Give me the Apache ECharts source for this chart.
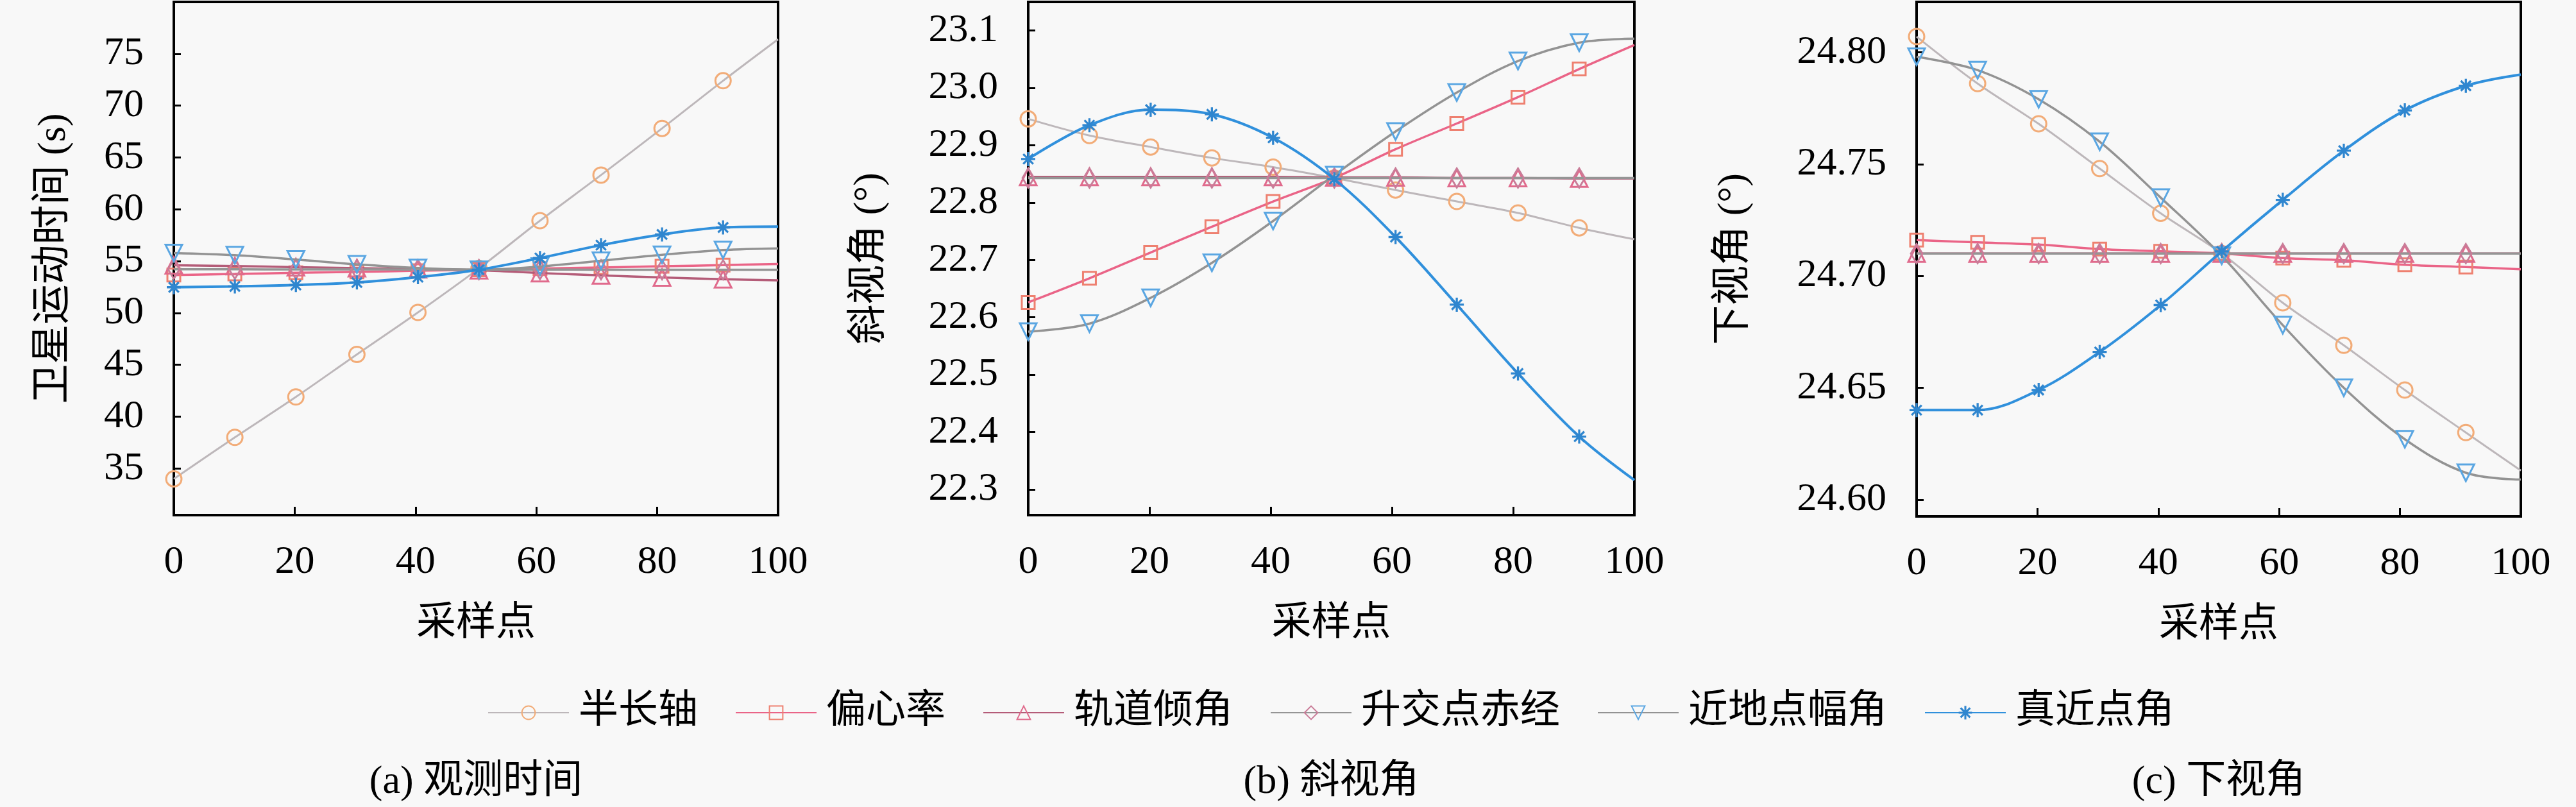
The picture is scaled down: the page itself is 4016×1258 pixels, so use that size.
<!DOCTYPE html>
<html>
<head>
<meta charset="utf-8">
<script src="https://cdn.jsdelivr.net/npm/echarts@6/dist/echarts.min.js"></script>
<style>
html, body { margin: 0; padding: 0; background: #f8f8f8; }
#main { width: 4016px; height: 1258px; }
</style>
</head>
<body>
<div id="main"></div>
<script>
// 采样点位置（标记点位于 0, 10.1, ..., 90.9，曲线延伸到 100）
var samplePoints = [0, 10.1, 20.2, 30.3, 40.4, 50.5, 60.6, 70.7, 80.8, 90.9, 100];
var seriesNames = ['半长轴', '偏心率', '轨道倾角', '升交点赤经', '近地点幅角', '真近点角'];
var xTicks = [0, 20, 40, 60, 80, 100];

// (a) 观测时间
var timeSemiMajor = [34.0, 38.0, 41.9, 46.0, 50.05, 54.3, 58.9, 63.3, 67.8, 72.4, 76.4];
var timeEcc = [53.66, 53.76, 53.87, 53.97, 54.07, 54.17, 54.28, 54.39, 54.5, 54.62, 54.73];
var timeIncl = [54.6, 54.52, 54.42, 54.32, 54.22, 54.12, 53.85, 53.62, 53.42, 53.25, 53.15];
var timeRaan = [54.22, 54.21, 54.2, 54.2, 54.19, 54.18, 54.18, 54.17, 54.17, 54.16, 54.16];
var timePerigee = [55.78, 55.57, 55.16, 54.69, 54.34, 54.17, 54.48, 55.04, 55.61, 56.07, 56.23];
var timeAnomaly = [52.48, 52.56, 52.69, 52.94, 53.45, 54.17, 55.3, 56.54, 57.57, 58.25, 58.33];

// (b) 斜视角
var squintSemiMajor = [22.946, 22.917, 22.897, 22.878, 22.862, 22.843, 22.822, 22.802, 22.782, 22.756, 22.736];
var squintEcc = [22.626, 22.668, 22.713, 22.758, 22.802, 22.843, 22.893, 22.938, 22.984, 23.033, 23.075];
var squintIncl = [22.845, 22.845, 22.845, 22.845, 22.845, 22.844, 22.844, 22.843, 22.843, 22.842, 22.842];
var squintRaan = [22.843, 22.843, 22.843, 22.843, 22.843, 22.843, 22.843, 22.843, 22.843, 22.843, 22.843];
var squintPerigee = [22.575, 22.589, 22.634, 22.695, 22.768, 22.848, 22.924, 22.992, 23.047, 23.079, 23.086];
var squintAnomaly = [22.876, 22.935, 22.962, 22.954, 22.913, 22.841, 22.740, 22.622, 22.502, 22.392, 22.316];

// (c) 下视角
var downSemiMajor = [24.807, 24.786, 24.768, 24.748, 24.728, 24.710, 24.688, 24.669, 24.649, 24.630, 24.613];
var downEcc = [24.716, 24.715, 24.714, 24.712, 24.711, 24.710, 24.708, 24.707, 24.705, 24.704, 24.703];
var downIncl = [24.710, 24.710, 24.710, 24.710, 24.710, 24.710, 24.710, 24.710, 24.710, 24.710, 24.710];
var downRaan = [24.710, 24.710, 24.710, 24.710, 24.710, 24.710, 24.710, 24.710, 24.710, 24.710, 24.710];
var downPerigee = [24.798, 24.792, 24.779, 24.760, 24.735, 24.709, 24.678, 24.650, 24.627, 24.612, 24.609];
var downAnomaly = [24.640, 24.640, 24.649, 24.666, 24.687, 24.711, 24.734, 24.756, 24.774, 24.785, 24.790];

var panelTitles = ['(a) 观测时间', '(b) 斜视角', '(c) 下视角'];
var yNames = ['卫星运动时间 (s)', '斜视角 (°)', '下视角 (°)'];

var chart = echarts.init(document.getElementById('main'));

var FONT = '"Liberation Serif", "Noto Sans CJK SC", serif';
var asterisk = 'path://M-1.5,-10L1.5,-10L1.5,10L-1.5,10Z' +
    'M-10,-1.5L10,-1.5L10,1.5L-10,1.5Z' +
    'M-6.01,-8.13L8.13,6.01L6.01,8.13L-8.13,-6.01Z' +
    'M6.01,-8.13L8.13,-6.01L-6.01,8.13L-8.13,6.01Z';

// 每条曲线的线色、标记样式
var styles = [
    {line: '#bdb7ba', mark: '#f2ac78', symbol: 'circle', size: 24, hollow: true, width: 3},
    {line: '#ea6487', mark: '#ee8070', symbol: 'rect', size: 20, hollow: true, width: 3.5},
    {line: '#b45c78', mark: '#e06a8c', symbol: 'triangle', size: 26, hollow: true, width: 3.5},
    {line: '#959595', mark: '#c97c98', symbol: 'diamond', size: [18, 30], hollow: true, width: 3.5},
    {line: '#939393', mark: '#5aa6e2', symbol: 'triangle', size: 26, hollow: true, rotate: 180, width: 3.5},
    {line: '#3090dc', mark: '#2f86cf', symbol: asterisk, size: 22, hollow: false, width: 4}
];

var panels = [
    {data: [timeSemiMajor, timeEcc, timeIncl, timeRaan, timePerigee, timeAnomaly], min: 30.5, max: 80, split: 10, digits: 0},
    {data: [squintSemiMajor, squintEcc, squintIncl, squintRaan, squintPerigee, squintAnomaly], min: 22.255, max: 23.15, split: 9, digits: 1},
    {data: [downSemiMajor, downEcc, downIncl, downRaan, downPerigee, downAnomaly], min: 24.5925, max: 24.8225, split: 5, digits: 2}
];

var grids = [
    {left: 271, top: 3, width: 942, height: 800},
    {left: 1603, top: 3, width: 945, height: 800},
    {left: 2988, top: 3, width: 942, height: 802}
];
var yNameGaps = [155, 215, 253];

var xAxes = [], yAxes = [], series = [], graphics = [];

grids.forEach(function (g, i) {
    g.show = true;
    g.borderColor = '#000';
    g.borderWidth = 4;
    g.backgroundColor = 'transparent';

    xAxes.push({
        gridIndex: i,
        type: 'value',
        min: xTicks[0],
        max: xTicks[xTicks.length - 1],
        interval: xTicks[1] - xTicks[0],
        name: '采样点',
        nameLocation: 'middle',
        nameGap: 140,
        nameTextStyle: {fontSize: 62, fontFamily: FONT, color: '#000'},
        axisLine: {lineStyle: {color: '#000', width: 4}},
        axisTick: {inside: true, length: 13, lineStyle: {color: '#000', width: 3}},
        axisLabel: {fontSize: 62, fontFamily: FONT, color: '#000', margin: 43},
        splitLine: {show: false}
    });

    var p = panels[i];
    yAxes.push({
        gridIndex: i,
        type: 'value',
        min: p.min,
        max: p.max,
        splitNumber: p.split,
        name: yNames[i],
        nameLocation: 'middle',
        nameRotate: 90,
        nameGap: yNameGaps[i],
        nameTextStyle: {fontSize: 62, fontFamily: FONT, color: '#000'},
        axisLine: {lineStyle: {color: '#000', width: 4}},
        axisTick: {inside: true, length: 11, lineStyle: {color: '#000', width: 3}},
        axisLabel: {
            fontSize: 62, fontFamily: FONT, color: '#000', margin: 47,
            showMinLabel: false, showMaxLabel: false,
            formatter: function (v) { return v.toFixed(p.digits); }
        },
        splitLine: {show: false}
    });

    p.data.forEach(function (vals, k) {
        var st = styles[k];
        var pts = vals.map(function (v, j) {
            var item = {value: [samplePoints[j], v]};
            if (j === vals.length - 1) item.symbol = 'none';
            return item;
        });
        series.push({
            name: seriesNames[k],
            type: 'line',
            xAxisIndex: i,
            yAxisIndex: i,
            smooth: 0.35,
            data: pts,
            symbol: st.symbol,
            symbolSize: st.size,
            symbolRotate: st.rotate || 0,
            showAllSymbol: true,
            lineStyle: {color: st.line, width: st.width},
            itemStyle: st.hollow
                ? {color: 'rgba(0,0,0,0)', borderColor: st.mark, borderWidth: 3}
                : {color: st.mark, borderWidth: 0},
            z: 2 + k
        });
    });

    graphics.push({
        type: 'text',
        x: g.left + g.width / 2,
        y: 1220,
        style: {
            text: panelTitles[i],
            fontSize: 62,
            fontFamily: FONT,
            fill: '#000',
            align: 'center',
            verticalAlign: 'middle'
        }
    });
});

chart.setOption({
    backgroundColor: '#f8f8f8',
    animation: false,
    legend: {
        data: seriesNames,
        left: 755,
        top: 1071,
        itemWidth: 126,
        itemHeight: 26,
        itemGap: 58,
        textStyle: {fontSize: 62, fontFamily: FONT, color: '#000', lineHeight: 70, padding: [0, 0, 0, 10]}
    },
    grid: grids,
    xAxis: xAxes,
    yAxis: yAxes,
    series: series,
    graphic: graphics
});
</script>
</body>
</html>
